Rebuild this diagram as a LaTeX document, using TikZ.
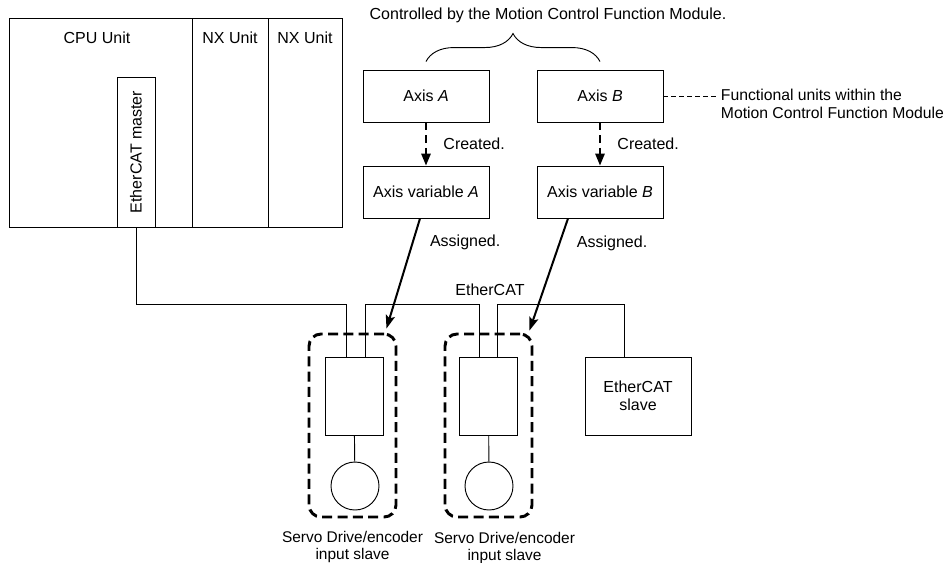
\documentclass[tikz,border=0pt]{standalone}
\usepackage{fontspec}
\setmainfont{Liberation Sans}
\usetikzlibrary{arrows.meta,positioning,decorations.pathreplacing}

\begin{document}
\begin{tikzpicture}[x=0.75pt, y=-0.75pt, line width=0.7pt,
  every node/.style={font=\fontsize{12}{13.5}\selectfont},
  axisbox/.style={draw, minimum width=94.5pt, minimum height=39pt, inner sep=0pt},
  drivebox/.style={draw, minimum width=43.5pt, minimum height=58.5pt, inner sep=0pt},
  slavegroup/.style={draw, line width=2.2pt, dash pattern=on 7.5pt off 4pt, rounded corners=9pt,
    minimum width=65.25pt, minimum height=137.25pt},
  created/.style={line width=1.5pt, dash pattern=on 6pt off 3.5pt, -{Triangle[length=9pt,width=7pt]}},
  assigned/.style={line width=1.5pt, -{Stealth[length=10pt,width=7pt,inset=2pt]}},
  servolabel/.style={align=center, font=\fontsize{11.6}{13}\selectfont}]
\useasboundingbox (0,0) rectangle (946,562);

% controller
\node[draw, minimum width=137.25pt, minimum height=156.75pt] (cpu) at (100.5,122.5) {};
\node[draw, minimum width=57pt, minimum height=156.75pt] (nx1) at (230,122.5) {};
\node[draw, minimum width=55.5pt, minimum height=156.75pt] (nx2) at (305,122.5) {};
\node (cputxt) at (97,38) {CPU Unit};
\node (nx1txt) at (230,38) {NX Unit};
\node (nx2txt) at (305,38) {NX Unit};
\node[draw, minimum width=28.5pt, minimum height=112.5pt, inner sep=0pt] (master) at (136,152)
  {\rotatebox{90}{EtherCAT master}};

% axes
\node[axisbox] (axisA) at (426,96) {Axis \textit{A}};
\node[axisbox] (axisB) at (600,96) {Axis \textit{B}};
\node[axisbox] (varA) at (426,192) {Axis variable \textit{A}};
\node[axisbox] (varB) at (600,192) {Axis variable \textit{B}};
\draw[created] (axisA) -- (varA) node[midway, right=9pt] (crA) {Created.};
\draw[created] (axisB) -- (varB) node[midway, right=9pt] (crB) {Created.};
\draw[decorate, decoration={brace, amplitude=21pt}] ([yshift=6pt]axisA.north) -- ([yshift=6pt]axisB.north);
\node (ctrl) at (548,15) {Controlled by the Motion Control Function Module.};
\node[align=left, anchor=west, font=\fontsize{11.8}{13.5}\selectfont] (func) at (716,104)
  {Functional units within the\\Motion Control Function Module};
\draw[dash pattern=on 3.5pt off 2.5pt] (axisB.east) -- (axisB.east -| func.west);

% slaves
\node[slavegroup] (grp1) at (352.5,425.5) {};
\node[slavegroup] (grp2) at (488.5,425.5) {};
\node[drivebox] (drv1) at (354,396) {};
\node[drivebox] (drv2) at (488.5,396) {};
\node[draw, circle, minimum size=36pt, inner sep=0pt] (mot1) at (355,486) {};
\node[draw, circle, minimum size=36pt, inner sep=0pt] (mot2) at (489,486) {};
\draw (drv1) -- (mot1);
\draw (drv2) -- (mot2);
\node[draw, minimum width=79.5pt, minimum height=58.5pt, align=center] (slave) at (638,396) {EtherCAT\\slave};
\node[servolabel, below=6pt of grp1] (lbl1) {Servo Drive/encoder\\input slave};
\node[servolabel, below=6.5pt of grp2, xshift=12pt] (lbl2) {Servo Drive/encoder\\input slave};

% EtherCAT line
\coordinate (bus) at (0,304);
\draw (master.south) -- (master.south |- bus) -| ([xshift=-6pt]drv1.north);
\draw ([xshift=8.25pt]drv1.north) -- ([xshift=8.25pt]drv1.north |- bus) -| ([xshift=-7pt]drv2.north);
\draw ([xshift=7pt]drv2.north) -- ([xshift=7pt]drv2.north |- bus) -| ([xshift=-10.5pt]slave.north);
\node (ecat) at (490,290) {EtherCAT};

% assignment
\draw[assigned] ([xshift=-4.5pt]varA.south) -- ([xshift=-8.25pt,yshift=3pt]grp1.north east)
  node[pos=0.22, right=9pt] (asA) {Assigned.};
\draw[assigned] ([xshift=-24pt]varB.south) -- ([xshift=-3pt,yshift=1.5pt]grp2.north east)
  node[pos=0.22, right=9pt] (asB) {Assigned.};
\end{tikzpicture}
\end{document}
